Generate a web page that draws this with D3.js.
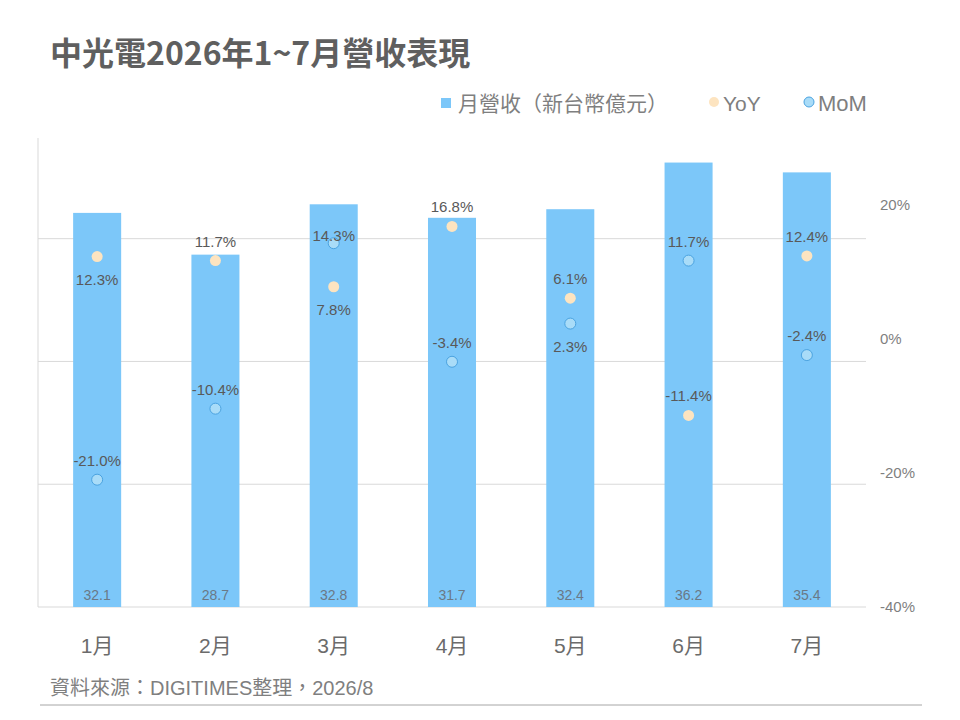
<!DOCTYPE html>
<html>
<head>
<meta charset="utf-8">
<script src="https://cdn.jsdelivr.net/npm/d3@7"></script>
<style>
  body { margin: 0; background: #fff; }
  svg { font-family: "Liberation Sans", "Noto Sans CJK TC", sans-serif; }
</style>
</head>
<body>
<div id="chart"></div>
<script>
const months = ['1月', '2月', '3月', '4月', '5月', '6月', '7月'];
const revenue = [32.1, 28.7, 32.8, 31.7, 32.4, 36.2, 35.4];
const yoy = [12.3, 11.7, 7.8, 16.8, 6.1, -11.4, 12.4];
const mom = [-21.0, -10.4, 14.3, -3.4, 2.3, 11.7, -2.4];
// label side for each point: 'a' above, 'b' below, 'c' just above (overlapping)
const yoySide = ['b', 'a', 'b', 'a', 'a', 'a', 'a'];
const momSide = ['a', 'a', 'c', 'a', 'b', 'a', 'a'];
const pctTicks = [-40, -20, 0, 20];
const revGrid = [10, 20, 30];

const width = 960, height = 720;
const plot = { left: 38, right: 866, top: 138, bottom: 607 };
const labelShift = { a: -14, b: 28, c: -2 };

const svg = d3.select('#chart').append('svg')
    .attr('width', width)
    .attr('height', height);

const x = d3.scaleBand()
    .domain(months)
    .range([plot.left, plot.right])
    .paddingInner(0.594)
    .paddingOuter(0.297);

const yRev = d3.scaleLinear()
    .domain([0, 38.2])
    .range([plot.bottom, plot.top]);

const yPct = d3.scaleLinear()
    .domain([-40, 30])
    .range([plot.bottom, plot.top]);

// title
svg.append('text')
    .attr('x', 50)
    .attr('y', 65)
    .style('font-family', '"Noto Sans CJK TC", sans-serif')
    .style('font-size', '32px')
    .style('font-weight', 700)
    .style('fill', '#5f5f5f')
    .text('中光電2026年1~7月營收表現');

// legend
const legend = svg.append('g');
legend.append('rect')
    .attr('x', 441).attr('y', 98)
    .attr('width', 10).attr('height', 10)
    .attr('fill', '#7cc7f9');
legend.append('text')
    .attr('x', 458).attr('y', 111)
    .style('font-size', '21px')
    .attr('textLength', 210)
    .style('fill', '#7f7f7f')
    .text('月營收（新台幣億元）');
legend.append('circle')
    .attr('cx', 714).attr('cy', 102).attr('r', 5)
    .attr('fill', '#fde4c0');
legend.append('text')
    .attr('x', 723).attr('y', 111)
    .style('font-size', '21px')
    .style('fill', '#7f7f7f')
    .text('YoY');
legend.append('circle')
    .attr('cx', 809).attr('cy', 102).attr('r', 5)
    .attr('fill', '#a9dcf8')
    .attr('stroke', '#4ba3e0')
    .attr('stroke-width', 1);
legend.append('text')
    .attr('x', 818).attr('y', 111)
    .style('font-size', '22px')
    .style('fill', '#7f7f7f')
    .text('MoM');

// grid lines
svg.selectAll('.grid')
    .data(revGrid)
    .enter()
    .append('line')
    .attr('class', 'grid')
    .attr('x1', plot.left)
    .attr('x2', plot.right)
    .attr('y1', d => yRev(d))
    .attr('y2', d => yRev(d))
    .style('stroke', '#d9d9d9')
    .style('stroke-width', 1);

// axis lines
svg.append('line')
    .attr('x1', plot.left).attr('x2', plot.left)
    .attr('y1', plot.top).attr('y2', plot.bottom)
    .style('stroke', '#d9d9d9');
svg.append('line')
    .attr('x1', plot.left).attr('x2', plot.right)
    .attr('y1', plot.bottom).attr('y2', plot.bottom)
    .style('stroke', '#d9d9d9');

// bars
svg.selectAll('.bar')
    .data(revenue)
    .enter()
    .append('rect')
    .attr('class', 'bar')
    .attr('x', (d, i) => x(months[i]))
    .attr('y', d => yRev(d))
    .attr('width', x.bandwidth())
    .attr('height', d => plot.bottom - yRev(d))
    .attr('fill', '#7cc7f9');

svg.selectAll('.bar-label')
    .data(revenue)
    .enter()
    .append('text')
    .attr('class', 'bar-label')
    .attr('x', (d, i) => x(months[i]) + x.bandwidth() / 2)
    .attr('y', plot.bottom - 7)
    .attr('text-anchor', 'middle')
    .style('font-size', '14px')
    .style('fill', '#6a7987')
    .text(d => d.toFixed(1));

// category labels
svg.selectAll('.cat')
    .data(months)
    .enter()
    .append('text')
    .attr('class', 'cat')
    .attr('x', d => x(d) + x.bandwidth() / 2)
    .attr('y', 653)
    .attr('text-anchor', 'middle')
    .style('font-size', '21px')
    .style('fill', '#6b6b6b')
    .text(d => d);

// right percent axis labels
svg.selectAll('.pct')
    .data(pctTicks)
    .enter()
    .append('text')
    .attr('class', 'pct')
    .attr('x', 880)
    .attr('y', d => yPct(d) + 5)
    .style('font-size', '15px')
    .style('fill', '#7f7f7f')
    .text(d => d + '%');

// points and their labels
function drawSeries(values, sides, fill, stroke) {
    const cx = (d, i) => x(months[i]) + x.bandwidth() / 2;
    const g = svg.append('g');
    g.selectAll('circle')
        .data(values)
        .enter()
        .append('circle')
        .attr('cx', cx)
        .attr('cy', d => yPct(d))
        .attr('r', 5.5)
        .attr('fill', fill)
        .attr('stroke', stroke || 'none')
        .attr('stroke-width', 1);
    g.selectAll('text')
        .data(values)
        .enter()
        .append('text')
        .attr('x', cx)
        .attr('y', (d, i) => yPct(d) + labelShift[sides[i]])
        .attr('text-anchor', 'middle')
        .style('font-size', '15px')
        .style('fill', '#595959')
        .text(d => d.toFixed(1) + '%');
}

drawSeries(yoy, yoySide, '#fde4c0', null);
drawSeries(mom, momSide, '#a9dcf8', '#4ba3e0');

// source
svg.append('text')
    .attr('x', 50)
    .attr('y', 695)
    .style('font-size', '20px')
    .style('fill', '#7f7f7f')
    .text('資料來源：DIGITIMES整理，2026/8');

svg.append('line')
    .attr('x1', 40).attr('x2', 922)
    .attr('y1', 705).attr('y2', 705)
    .style('stroke', '#a6a6a6')
    .style('stroke-width', 1);
</script>
</body>
</html>
